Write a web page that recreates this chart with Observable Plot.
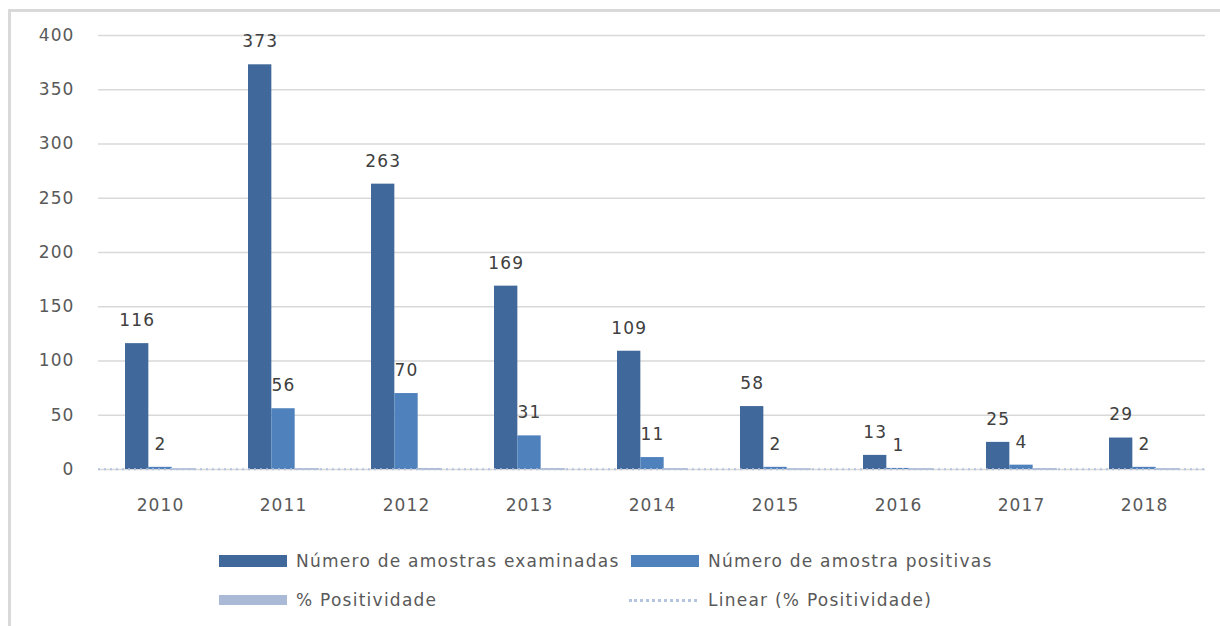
<!DOCTYPE html>
<html>
<head>
<meta charset="utf-8">
<script src="https://cdn.jsdelivr.net/npm/d3@7"></script>
<script src="https://cdn.jsdelivr.net/npm/@observablehq/plot@0.6"></script>
<style>
  html, body { margin: 0; padding: 0; background: #fff; }
  body { width: 1220px; height: 626px; position: relative; overflow: hidden; font-family: "DejaVu Sans", sans-serif; }
  #frame { position: absolute; left: 8px; top: 9px; width: 1400px; height: 800px; border-left: 3px solid #d9d9d9; border-top: 3px solid #d9d9d9; }
  #chart { position: absolute; left: 0; top: 0; }
  .leg { position: absolute; display: flex; align-items: center; font-size: 17px; letter-spacing: 1.25px; color: #595959; white-space: nowrap; }
  .sw { width: 68px; height: 12px; margin-right: 9px; }
  .dot { width: 68px; height: 0; border-top: 3px dotted #b4c3de; margin-right: 11px; }
</style>
</head>
<body>
<div id="frame"></div>
<div id="chart"></div>
<div class="leg" style="left:219px; top:551px;"><div class="sw" style="background:#41689A"></div>Número de amostras examinadas</div>
<div class="leg" style="left:631px; top:551px;"><div class="sw" style="background:#4F81BD"></div>Número de amostra positivas</div>
<div class="leg" style="left:219px; top:590px;"><div class="sw" style="background:#A9B9D6; height:10px"></div>% Positividade</div>
<div class="leg" style="left:629px; top:590px;"><div class="dot"></div>Linear (% Positividade)</div>
<script>
const years = ["2010", "2011", "2012", "2013", "2014", "2015", "2016", "2017", "2018"];
const examinadas = [116, 373, 263, 169, 109, 58, 13, 25, 29];
const positivas = [2, 56, 70, 31, 11, 2, 1, 4, 2];
const positividade = [0.017, 0.150, 0.266, 0.183, 0.101, 0.034, 0.077, 0.160, 0.069];
const yTicks = [0, 50, 100, 150, 200, 250, 300, 350, 400];
const seriesNames = ["Número de amostras examinadas", "Número de amostra positivas", "% Positividade"];
const colors = ["#41689A", "#4F81BD", "#A9B9D6"];

const W = 1220, mL = 98, mR = 15;
const pInner = 0.431, pOuter = pInner / 2;
const step = (W - mL - mR) / (years.length - pInner + 2 * pOuter);
const B = step * (1 - pInner);
const third = B / 3;

const rows = years.map((y, i) => ({year: y, ex: examinadas[i], pos: positivas[i], pct: positividade[i]}));

// linear trend of % positividade (least squares over index)
const n = positividade.length;
const xs = d3.range(n);
const mx = d3.mean(xs), my = d3.mean(positividade);
const slope = d3.sum(xs, (x, i) => (x - mx) * (positividade[i] - my)) / d3.sum(xs, x => (x - mx) ** 2);
const trend = xs.map(x => ({year: years[x], v: my + slope * (x - mx)}));

const plot = Plot.plot({
  width: W,
  height: 530,
  marginLeft: mL,
  marginRight: mR,
  marginTop: 35,
  marginBottom: 61,
  style: {fontFamily: "DejaVu Sans, sans-serif", fontSize: "17px", color: "#595959", letterSpacing: "1.1px", background: "transparent"},
  x: {domain: years, paddingInner: pInner, paddingOuter: pOuter, label: null},
  y: {domain: [0, 400], label: null},
  marks: [
    Plot.ruleY(yTicks, {stroke: "#d9d9d9", strokeWidth: 1.3}),
    Plot.barY(rows, {x: "year", y: "ex", fill: colors[0], insetRight: 2 * third}),
    Plot.barY(rows, {x: "year", y: "pos", fill: colors[1], insetLeft: third, insetRight: third}),
    Plot.barY(rows, {x: "year", y: "pct", fill: colors[2], stroke: colors[2], strokeWidth: 1.5, insetLeft: 2 * third}),
    Plot.text(rows, {x: "year", y: "ex", text: d => String(d.ex), dx: -third, dy: -23, fill: "#404040", lineAnchor: "middle"}),
    Plot.text(rows, {x: "year", y: "pos", text: d => String(d.pos), dx: 0, dy: -23, fill: "#404040", lineAnchor: "middle"}),
    Plot.ruleY([d3.mean(trend, d => d.v)], {stroke: "#b4c3de", strokeWidth: 2, strokeDasharray: "2,4"}),
    Plot.axisY({ticks: yTicks, tickSize: 0, tickPadding: 24, tickFormat: d => String(d), label: null}),
    Plot.axisX({tickSize: 0, tickPadding: 29, label: null})
  ]
});
document.getElementById("chart").appendChild(plot);
</script>
</body>
</html>
